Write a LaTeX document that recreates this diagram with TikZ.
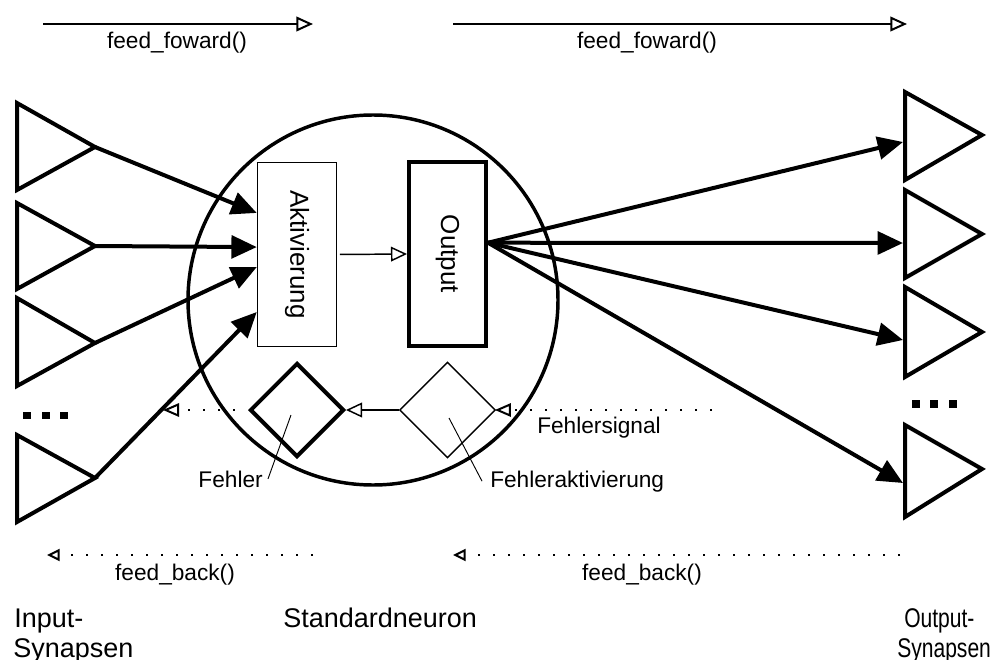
\documentclass[tikz,border=0pt]{standalone}
\usepackage{fontspec}
\setmainfont{Liberation Sans}
\usetikzlibrary{arrows.meta,shapes.geometric,calc}
\begin{document}
\begin{tikzpicture}[x=0.75pt,y=-0.75pt,
  lbl/.style={font=\fontsize{17}{20}\selectfont, inner sep=0pt},
  biglbl/.style={font=\fontsize{20.25}{23}\selectfont, inner sep=0pt},
  syn/.style={line width=3pt, line join=miter},
  box/.style={draw, rectangle, inner sep=0pt, line width=1.1pt},
  thickbox/.style={box, line width=3pt},
  rhomb/.style={draw, diamond, inner sep=0pt, aspect=1, line width=1.1pt},
  signal/.style={line width=3pt, -{Triangle[length=19pt,width=17pt]}},
  call/.style={line width=1.5pt, -{Triangle[open,length=12.5pt,width=11pt]}},
  inner/.style={line width=1.1pt, -{Triangle[open,length=12pt,width=11pt]}},
  errflow/.style={line width=1.5pt, dash pattern=on 1.5pt off 9.75pt,
    -{Triangle[open,length=12pt,width=10pt]}},
  back/.style={line width=1.5pt, dash pattern=on 1.5pt off 9.75pt,
    -{Triangle[open,length=9.5pt,width=9pt]}},
  leader/.style={line width=0.7pt},
  ellipsis/.style={fill=black}
]
\useasboundingbox (0,0) rectangle (993,660);

% ---- feed_foward() calls along the top
\coordinate (ffA0) at (43,24);
\coordinate (ffA1) at (313,24);
\coordinate (ffB0) at (453,24);
\coordinate (ffB1) at (907,24);
\draw[call] (ffA0) -- (ffA1);
\draw[call] (ffB0) -- (ffB1);
\node[lbl, anchor=base] (lblFF1) at (177,49) {feed\_foward()};
\node[lbl, anchor=base] (lblFF2) at (647,49) {feed\_foward()};

% ---- the standard neuron
\node[draw, circle, inner sep=0pt, minimum size=277.5pt, line width=2.6pt] (neuron) at (373,300) {};
\node[box, minimum width=59.25pt, minimum height=138pt] (akt) at (297,254.5)
  {\fontsize{19.5}{22}\selectfont\rotatebox{-90}{Aktivierung}};
\node[thickbox, minimum width=57.75pt, minimum height=138pt] (out) at (447.5,254)
  {\fontsize{19.5}{22}\selectfont\rotatebox{-90}{Output}};
\node[rhomb, line width=3pt, minimum width=70.5pt, minimum height=70.5pt] (fehler) at (297,410) {};
\node[rhomb, minimum width=72pt, minimum height=72pt] (fakt) at (447.5,410) {};

\draw[inner, shorten <=2pt] (akt.east) -- (out.west);
\draw[inner] (fakt.west) -- (fehler.east);

% ---- input synapses
\draw[syn] (17,103) -- (95,147) -- (17,190) -- cycle;
\draw[syn] (17,203) -- (95,246) -- (17,289) -- cycle;
\draw[syn] (17,298) -- (95,343) -- (17,386) -- cycle;
\draw[syn] (17,435) -- (95,478) -- (17,522) -- cycle;
\coordinate (in1) at (95,147);
\coordinate (in2) at (95,246);
\coordinate (in3) at (95,343);
\coordinate (in4) at (95,478);
\fill[ellipsis] (23,412) rectangle (31,419);
\fill[ellipsis] (42,412) rectangle (50,419);
\fill[ellipsis] (60,412) rectangle (68,419);

\draw[signal] (in1) -- ($(akt.north west)!0.276!(akt.south west)$);
\draw[signal] (in2) -- ($(akt.north west)!0.46!(akt.south west)$);
\draw[signal] (in3) -- ($(akt.north west)!0.568!(akt.south west)$);
\draw[signal] (in4) -- ($(akt.north west)!0.81!(akt.south west)$);

% ---- output synapses
\draw[syn] (905,92) -- (982,135) -- (905,180) -- cycle;
\draw[syn] (905,190) -- (982,234) -- (905,278) -- cycle;
\draw[syn] (905,287) -- (982,332) -- (905,377) -- cycle;
\draw[syn] (905,425) -- (982,469) -- (905,517) -- cycle;
\coordinate (os1) at (903,142);
\coordinate (os2) at (903,243);
\coordinate (os3) at (903,340);
\coordinate (os4) at (903,483);
\fill[ellipsis] (912,400) rectangle (920,408);
\fill[ellipsis] (930,400) rectangle (938,408);
\fill[ellipsis] (949,400) rectangle (957,408);

\coordinate (src) at ($(out.north east)!0.44!(out.south east)$);
\draw[signal] (src) -- (os1);
\draw[signal] (src) -- (os2);
\draw[signal] (src) -- (os3);
\draw[signal] (src) -- (os4);

% ---- error path
\coordinate (fs0) at (712,410);
\coordinate (fsEnd) at (163,410);
\draw[errflow, shorten >=-1pt] (fs0) -- (fakt.east);
\draw[errflow, shorten <=10pt] (fehler.west) -- (fsEnd);
\node[lbl, anchor=base] (lblFS) at (599,433) {Fehlersignal};
\node[lbl, anchor=base east] (lblF) at (263,487) {Fehler};
\node[lbl, anchor=base west] (lblFA) at (490,487) {Fehleraktivierung};
\draw[leader] ($(lblF.east)+(5,0)$) -- ($(fehler.center)+(-6,5)$);
\draw[leader] ($(lblFA.west)+(-8,0)$) -- ($(fakt.center)+(1.5,8)$);

% ---- feed_back() calls along the bottom
\coordinate (fbA0) at (313,555);
\coordinate (fbA1) at (47,555);
\coordinate (fbB0) at (900,555);
\coordinate (fbB1) at (453,555);
\draw[back] (fbA0) -- (fbA1);
\draw[back] (fbB0) -- (fbB1);
\node[lbl, anchor=base] (lblFB1) at (175,580) {feed\_back()};
\node[lbl, anchor=base] (lblFB2) at (642,580) {feed\_back()};

% ---- captions
\node[biglbl, anchor=base west] (capIn1) at (14,627) {Input-};
\node[biglbl, anchor=base west] (capIn2) at (13,657) {Synapsen};
\node[biglbl, anchor=base west] (capStd) at (283,627) {Standardneuron};
\node[biglbl, anchor=base west] (capOut1) at (904,627) {\scalebox{0.78}[1]{Output-}};
\node[biglbl, anchor=base west] (capOut2) at (897,657) {\scalebox{0.78}[1]{Synapsen}};
\end{tikzpicture}
\end{document}
